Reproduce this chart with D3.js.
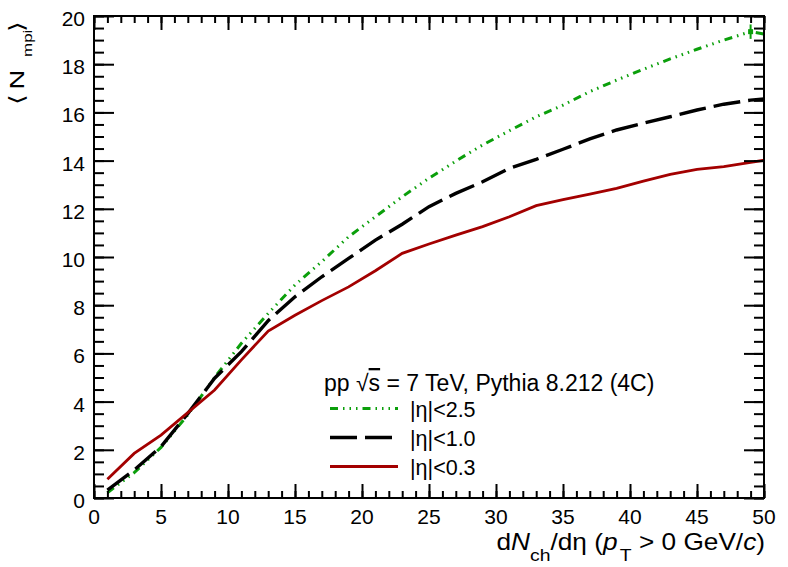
<!DOCTYPE html>
<html>
<head>
<meta charset="utf-8">
<script src="https://cdn.jsdelivr.net/npm/d3@7"></script>
<style>
  body { margin: 0; background: #fff; }
  text { font-family: "Liberation Sans", Arial, sans-serif; fill: #000; }
</style>
</head>
<body>
<div class="g-graphic"></div>
<script>
(function(d3) {
    "use strict";

    // bin centres of dNch/deta (last one sits outside the frame and is clipped)
    var binCentres = [1, 3, 5, 7, 9, 11, 13, 15, 17, 19, 21, 23, 25, 27, 29, 31, 33, 35, 37, 39, 41, 43, 45, 47, 49, 51];

    var eta25 = [0.22, 1.05, 2.1, 3.45, 5.0, 6.42, 7.66, 8.84, 9.81, 10.84, 11.67, 12.5, 13.27, 13.98, 14.65, 15.24,
        15.82, 16.3, 16.86, 17.34, 17.79, 18.22, 18.62, 19.0, 19.35, 19.15];
    var eta10 = [0.33, 1.16, 2.13, 3.5, 4.97, 6.07, 7.36, 8.35, 9.18, 9.94, 10.7, 11.36, 12.09, 12.64, 13.12, 13.68,
        14.05, 14.47, 14.9, 15.27, 15.55, 15.82, 16.1, 16.34, 16.51, 16.6];
    var eta03 = [0.78, 1.85, 2.61, 3.54, 4.48, 5.73, 6.93, 7.58, 8.19, 8.76, 9.43, 10.15, 10.54, 10.91, 11.26, 11.67,
        12.13, 12.38, 12.61, 12.85, 13.15, 13.43, 13.64, 13.75, 13.93, 14.1];

    // the one visible error bar (|eta|<2.5, last bin)
    var eta25LastErr = 0.3;

    var xTicks = [0, 5, 10, 15, 20, 25, 30, 35, 40, 45, 50];
    var yTicks = [0, 2, 4, 6, 8, 10, 12, 14, 16, 18, 20];
    var legendLabels = ["|η|<2.5", "|η|<1.0", "|η|<0.3"];

    var W = 788, H = 567;
    var margin = { top: 16, right: 24, bottom: 69, left: 94 };
    var width = W - margin.left - margin.right,
        height = H - margin.top - margin.bottom;

    var x = d3.scaleLinear().domain([0, 50]).range([0, width]);
    var y = d3.scaleLinear().domain([0, 20]).range([height, 0]);

    var series = [
        { values: eta25, color: "#0b9f0b", dash: "8,5,1.5,5,1.5,5,1.5,5", width: 3 },
        { values: eta10, color: "#000000", dash: "27,8", width: 3.4 },
        { values: eta03, color: "#a30000", dash: null, width: 2.8 }
    ];

    var svg = d3.select(".g-graphic").append("svg")
        .attr("width", W)
        .attr("height", H);

    svg.append("defs").append("clipPath")
        .attr("id", "plotclip")
        .append("rect")
        .attr("width", width)
        .attr("height", height);

    var g = svg.append("g")
        .attr("transform", "translate(" + margin.left + "," + margin.top + ")");

    var line = d3.line()
        .x(function(d) { return x(d[0]); })
        .y(function(d) { return y(d[1]); });

    var curves = g.append("g").attr("clip-path", "url(#plotclip)");

    series.forEach(function(s) {
        curves.append("path")
            .datum(d3.zip(binCentres, s.values))
            .attr("fill", "none")
            .attr("stroke", s.color)
            .attr("stroke-width", s.width)
            .attr("stroke-dasharray", s.dash)
            .attr("d", line);
    });

    // error bar on last green point
    var lastIdx = binCentres.indexOf(49);
    curves.append("line")
        .attr("x1", x(49)).attr("x2", x(49))
        .attr("y1", y(eta25[lastIdx] - eta25LastErr))
        .attr("y2", y(eta25[lastIdx] + eta25LastErr))
        .attr("stroke", series[0].color)
        .attr("stroke-width", 2);
    curves.append("rect")
        .attr("x", x(49) - 2.5).attr("y", y(eta25[lastIdx]) - 2.5)
        .attr("width", 5).attr("height", 5)
        .attr("fill", series[0].color);

    // ROOT-like frame with inner ticks on all four sides
    var xMinor = d3.range(0, 51, 1),
        yMinor = d3.range(0, 20.01, 0.5);

    var axisStyle = function(sel) {
        sel.select(".domain").remove();
        sel.selectAll(".tick line").attr("stroke", "#000").attr("stroke-width", 2);
    };

    g.append("g")
        .attr("transform", "translate(0," + height + ")")
        .call(d3.axisTop(x).tickValues(xMinor).tickSize(7).tickFormat(""))
        .call(axisStyle);
    g.append("g")
        .attr("transform", "translate(0," + height + ")")
        .call(d3.axisTop(x).tickValues(xTicks).tickSize(14).tickFormat(""))
        .call(axisStyle);
    g.append("g")
        .call(d3.axisBottom(x).tickValues(xMinor).tickSize(7).tickFormat(""))
        .call(axisStyle);
    g.append("g")
        .call(d3.axisBottom(x).tickValues(xTicks).tickSize(14).tickFormat(""))
        .call(axisStyle);

    g.append("g")
        .call(d3.axisRight(y).tickValues(yMinor).tickSize(10).tickFormat(""))
        .call(axisStyle);
    g.append("g")
        .call(d3.axisRight(y).tickValues(yTicks).tickSize(20).tickFormat(""))
        .call(axisStyle);
    g.append("g")
        .attr("transform", "translate(" + width + ",0)")
        .call(d3.axisLeft(y).tickValues(yMinor).tickSize(10).tickFormat(""))
        .call(axisStyle);
    g.append("g")
        .attr("transform", "translate(" + width + ",0)")
        .call(d3.axisLeft(y).tickValues(yTicks).tickSize(20).tickFormat(""))
        .call(axisStyle);

    g.append("rect")
        .attr("width", width)
        .attr("height", height)
        .attr("fill", "none")
        .attr("stroke", "#000")
        .attr("stroke-width", 2);

    // tick labels
    g.selectAll(".xlab")
        .data(xTicks)
        .enter().append("text")
        .attr("class", "xlab")
        .attr("x", function(d) { return x(d); })
        .attr("y", height + 26)
        .attr("text-anchor", "middle")
        .style("font-size", "21px")
        .text(function(d) { return d; });

    g.selectAll(".ylab")
        .data(yTicks)
        .enter().append("text")
        .attr("class", "ylab")
        .attr("x", -9)
        .attr("y", function(d) { return y(d) + 10; })
        .attr("text-anchor", "end")
        .style("font-size", "21px")
        .text(function(d) { return d; });

    // x title, slightly widened like the ROOT Helvetica
    var xt = svg.append("text")
        .attr("transform", "translate(" + (margin.left + width + 1) + ",550) scale(1.14,1)")
        .attr("text-anchor", "end")
        .style("font-size", "23px");
    xt.append("tspan").text("d");
    xt.append("tspan").style("font-style", "italic").text("N");
    xt.append("tspan").attr("dy", 11).style("font-size", "17px").text("ch");
    xt.append("tspan").attr("dy", -11).text("/dη (");
    xt.append("tspan").style("font-style", "italic").text("p");
    xt.append("tspan").attr("dy", 11).attr("dx", 2).style("font-size", "17px").text("T");
    xt.append("tspan").attr("dy", -11).text(" > 0 GeV/");
    xt.append("tspan").style("font-style", "italic").text("c");
    xt.append("tspan").text(")");

    // y title, read bottom to top, ending at the top of the frame
    var yt = svg.append("g")
        .attr("transform", "translate(24,105) rotate(-90) scale(1.3,1)")
        .append("text")
        .style("font-size", "21px");
    yt.append("tspan").attr("x", 0).text("⟨");
    yt.append("tspan").attr("x", 12).text("N");
    yt.append("tspan").attr("x", 37).attr("dy", 8).style("font-size", "13px").text("mpi");
    yt.append("tspan").attr("x", 56).attr("dy", -8).text("⟩");

    // legend
    var legend = svg.append("g");
    var head = legend.append("text")
        .attr("x", 324)
        .attr("y", 391)
        .style("font-size", "23px");
    head.append("tspan").text("pp \u221A");
    head.append("tspan").style("text-decoration", "overline").text("s");
    head.append("tspan").text(" = 7 TeV, Pythia 8.212 (4C)");

    var rows = legend.selectAll(".row")
        .data(series)
        .enter().append("g")
        .attr("class", "row")
        .attr("transform", function(d, i) { return "translate(0," + (408.5 + i * 29) + ")"; });

    rows.append("line")
        .attr("x1", 330).attr("x2", 398)
        .attr("stroke", function(d) { return d.color; })
        .attr("stroke-width", function(d) { return d.width; })
        .attr("stroke-dasharray", function(d) { return d.dash; });

    rows.append("text")
        .attr("x", 410)
        .attr("y", 8)
        .style("font-size", "21.5px")
        .text(function(d, i) { return legendLabels[i]; });

})(d3);
</script>
</body>
</html>
